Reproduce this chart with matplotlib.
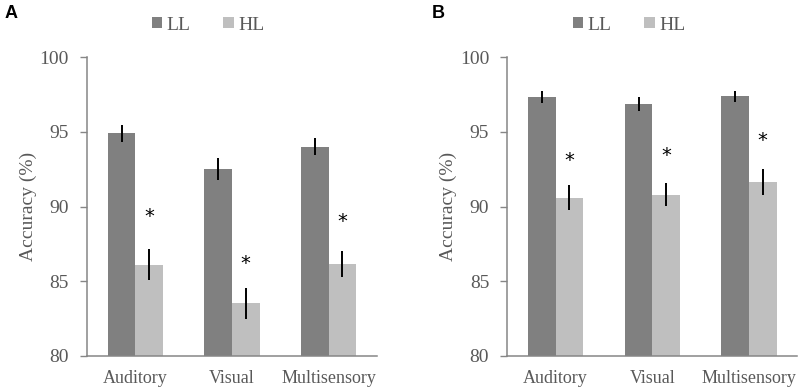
import numpy as np
from matplotlib import pyplot as plt

categories = ['Auditory', 'Visual', 'Multisensory']
series = ['LL', 'HL']

# panel A
a_ll = [94.9, 92.5, 94.0]
a_ll_err = [0.55, 0.74, 0.58]
a_hl = [86.1, 83.5, 86.15]
a_hl_err = [1.05, 1.03, 0.89]
a_star = [89.3, 86.2, 89.0]

# panel B
b_ll = [97.35, 96.86, 97.4]
b_ll_err = [0.42, 0.46, 0.37]
b_hl = [90.6, 90.8, 91.65]
b_hl_err = [0.81, 0.76, 0.89]
b_star = [93.1, 93.4, 94.4]

yticks = [80, 85, 90, 95, 100]

LL_COLOR = '#808080'
HL_COLOR = '#bfbfbf'
AXIS_COLOR = '#868686'
TEXT_COLOR = '#595959'

plt.rcParams['font.family'] = ['Liberation Serif', 'DejaVu Serif']


def draw_panel(fig, rect, ll, ll_err, hl, hl_err, stars, letter, letter_x, legend_x):
    ax = fig.add_axes(rect)
    x = np.arange(len(categories))
    width = 0.285
    ax.bar(x - width / 2, ll, width, color=LL_COLOR, label='LL')
    ax.bar(x + width / 2, hl, width, color=HL_COLOR, label='HL')
    ax.errorbar(x - width / 2, ll, yerr=ll_err, fmt='none', ecolor='black', elinewidth=1.4, capsize=0)
    ax.errorbar(x + width / 2, hl, yerr=hl_err, fmt='none', ecolor='black', elinewidth=1.4, capsize=0)
    for xi, s in zip(x, stars):
        ax.text(xi + width / 2, s, '*', ha='center', va='center', fontsize=14, color='black',
                family='DejaVu Sans')

    ax.set_xlim(-0.5, len(categories) - 0.5)
    ax.set_ylim(80, 100)
    ax.set_yticks(yticks)
    ax.set_xticks(x)
    ax.set_xticklabels(categories, fontsize=13, color=TEXT_COLOR)
    ax.tick_params(axis='x', length=0, pad=10)
    ax.tick_params(axis='y', labelsize=14, colors=AXIS_COLOR, labelcolor=TEXT_COLOR, length=5, width=1,
                   pad=8)
    for side in ['top', 'right']:
        ax.spines[side].set_visible(False)
    for side in ['left', 'bottom']:
        ax.spines[side].set_color(AXIS_COLOR)
        ax.spines[side].set_linewidth(1.1)
    ax.set_ylabel('Accuracy (%)', fontsize=14, color=TEXT_COLOR, labelpad=2)

    fig.text(letter_x, 1 - 14 / 389, letter, fontsize=13, fontweight='bold', family='Liberation Sans',
             ha='left', va='center')
    ax.legend(loc='center', bbox_to_anchor=(legend_x, 1 - 25 / 389), bbox_transform=fig.transFigure,
              ncol=2, frameon=False, fontsize=14, handlelength=0.55, handleheight=0.55,
              handletextpad=0.2, columnspacing=1.7, labelcolor=TEXT_COLOR)
    return ax


fig = plt.figure(figsize=(8, 3.89), dpi=100)
draw_panel(fig, [87 / 800, 1 - 355.7 / 389, 290 / 800, 298.4 / 389],
           a_ll, a_ll_err, a_hl, a_hl_err, a_star, 'A', 5 / 800, 208 / 800)
draw_panel(fig, [507.3 / 800, 1 - 355.7 / 389, 290 / 800, 298.4 / 389],
           b_ll, b_ll_err, b_hl, b_hl_err, b_star, 'B', 432 / 800, 629 / 800)
fig.savefig('out.png', dpi=100)
